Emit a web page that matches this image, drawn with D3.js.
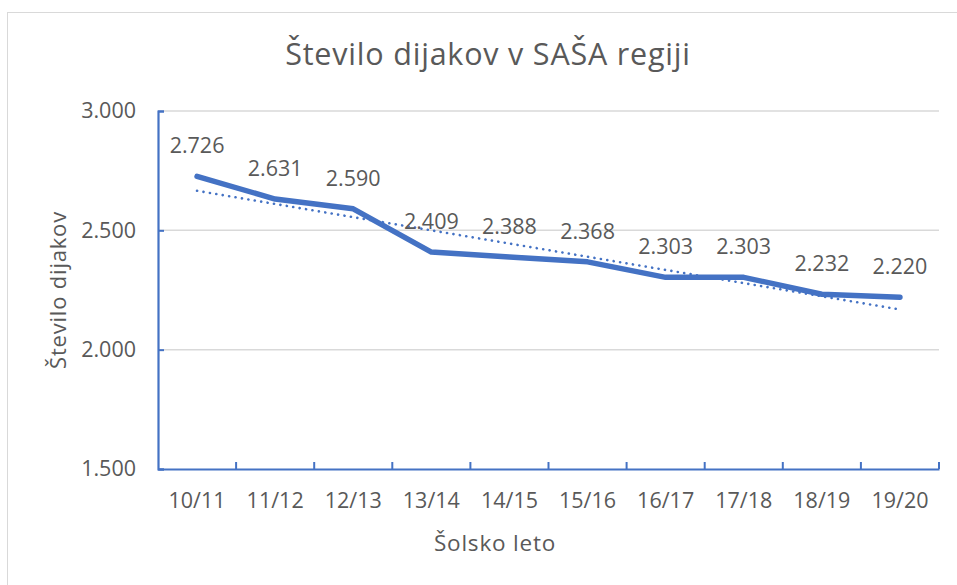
<!DOCTYPE html>
<html><head><meta charset="utf-8">
<script src="https://cdn.jsdelivr.net/npm/d3@7"></script>
<style>body{margin:0;background:#fff}svg{display:block}</style>
</head><body>
<svg id="c" width="957" height="585"></svg>
<script>
const categories = ["10/11","11/12","12/13","13/14","14/15","15/16","16/17","17/18","18/19","19/20"];
const values = [2726,2631,2590,2409,2388,2368,2303,2303,2232,2220];
const yTicks = [1500,2000,2500,3000];
const title = "Število dijakov v SAŠA regiji";
const xTitle = "Šolsko leto";
const yTitle = "Število dijakov";

const svg = d3.select("#c");
const font = "'Open Sans', sans-serif";
const txt = "#595959";
const blue = "#4472C4";
const L = 158, R = 939, T = 111, B = 469;
const fs = 21.5;

svg.append("rect").attr("x",7.5).attr("y",12.5).attr("width",1000).attr("height",1000)
  .attr("fill","#fff").attr("stroke","#d9d9d9").attr("stroke-width",1);

const x = d3.scaleBand().domain(categories).range([L,R]);
const y = d3.scaleLinear().domain([1500,3000]).range([B,T]);
const fmt = v => d3.format(",")(v).replace(/,/g,".");

// gridlines
svg.append("g").selectAll("line").data(yTicks.slice(1)).join("line")
  .attr("x1",L).attr("x2",R).attr("y1",d=>y(d)).attr("y2",d=>y(d))
  .attr("stroke","#d9d9d9").attr("stroke-width",1.5);

// y axis
const ya = svg.append("g").attr("transform",`translate(${L},0)`)
  .call(d3.axisLeft(y).tickValues(yTicks).tickSize(-6).tickPadding(22).tickFormat(fmt));
ya.select(".domain").attr("stroke",blue).attr("stroke-width",2.2);
ya.selectAll(".tick line").attr("stroke",blue).attr("stroke-width",2);
ya.selectAll("text").attr("fill",txt).attr("font-family",font).attr("font-size",fs);

// x axis
const xa = svg.append("g").attr("transform",`translate(0,${B})`)
  .call(d3.axisBottom(x).tickSize(0).tickPadding(24));
xa.select(".domain").attr("stroke",blue).attr("stroke-width",2.2);
xa.selectAll("text").attr("fill",txt).attr("font-family",font).attr("font-size",fs);
// boundary ticks
const bounds = categories.map(c=>x(c)).slice(1).concat([R]);
svg.append("g").selectAll("line").data(bounds).join("line")
  .attr("x1",d=>d).attr("x2",d=>d).attr("y1",B).attr("y2",B-7)
  .attr("stroke",blue).attr("stroke-width",2);

// trendline
const n = values.length;
const mx = d3.mean(d3.range(n)), my = d3.mean(values);
const slope = d3.sum(values,(v,i)=>(i-mx)*(v-my))/d3.sum(d3.range(n),i=>(i-mx)*(i-mx));
const icpt = my - slope*mx;
const cx = i => x(categories[i]) + x.bandwidth()/2;
svg.append("line")
  .attr("x1",cx(0)).attr("y1",y(icpt)).attr("x2",cx(n-1)).attr("y2",y(icpt+slope*(n-1)))
  .attr("stroke",blue).attr("stroke-width",2.6).attr("stroke-dasharray","0.1 6.4").attr("stroke-linecap","round");

// main line
const line = d3.line().x((d,i)=>cx(i)).y(d=>y(d));
svg.append("path").datum(values).attr("d",line).attr("fill","none")
  .attr("stroke",blue).attr("stroke-width",5.5).attr("stroke-linejoin","round").attr("stroke-linecap","round");

// data labels
svg.append("g").selectAll("text").data(values).join("text")
  .attr("x",(d,i)=>cx(i)).attr("y",d=>y(d)-23)
  .attr("text-anchor","middle").attr("fill",txt).attr("font-family",font).attr("font-size",fs)
  .text(fmt);

// titles
svg.append("text").attr("x",488).attr("y",65).attr("text-anchor","middle")
  .attr("fill",txt).attr("font-family",font).attr("font-size",30.5).attr("letter-spacing",0.8).text(title);
svg.append("text").attr("x",495).attr("y",551).attr("text-anchor","middle")
  .attr("fill",txt).attr("font-family",font).attr("font-size",22.5).attr("letter-spacing",0.8).text(xTitle);
svg.append("text").attr("transform","translate(66,290) rotate(-90)").attr("text-anchor","middle")
  .attr("fill",txt).attr("font-family",font).attr("font-size",22).attr("letter-spacing",0.8).text(yTitle);
</script>
</body></html>
